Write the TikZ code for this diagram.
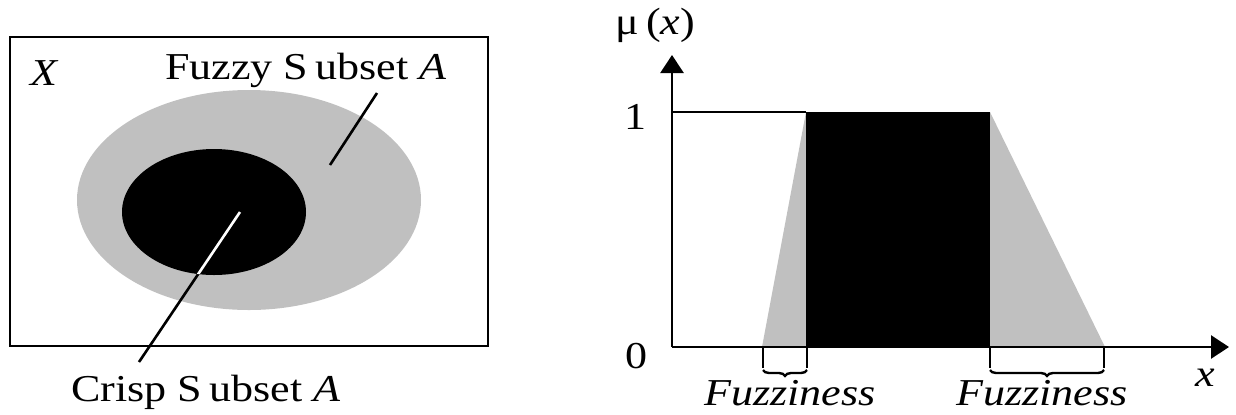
\documentclass[tikz,border=0pt]{standalone}
\usepackage{fontspec}
\setmainfont{Liberation Serif}
\usetikzlibrary{arrows.meta,decorations.pathreplacing}
\definecolor{fuzzgray}{RGB}{192,192,192}
\newcommand{\wide}[1]{\scalebox{1.16}[1]{#1}}

\begin{document}
\begin{tikzpicture}[x=0.5pt,y=-0.5pt,
	lbl/.style={inner sep=0pt,font=\fontsize{19}{21}\selectfont},
	axis/.style={line width=1.3pt,-{Triangle[length=9pt,width=11.5pt]}},
	fuzzbrace/.style={decorate,decoration={brace,mirror,amplitude=3pt},line width=1.2pt}]
	\useasboundingbox (0,0) rectangle (1236,414);
	% the universe X
	\draw[line width=1.2pt] (10,37) rectangle (488,346);
	\node[lbl] (X) at (45,73) {\wide{\textit{X}}};
	% fuzzy subset and crisp subset
	\fill[fuzzgray] (249,200) ellipse (172 and 110);
	\fill[black] (214,212) ellipse (92 and 63);
	\node[lbl] (fuzzy) at (306,70) {\wide{Fuzzy S\,ubset \textit{A}}};
	\node[lbl] (crisp) at (206,392) {\wide{Crisp S\,ubset \textit{A}}};
	\coordinate (fzend) at (377,93);
	\coordinate (fzin) at (330,165);
	\coordinate (crend) at (139,362);
	\coordinate (crin) at (240,212);
	\draw[line width=1.3pt] (fzend) -- (fzin);
	\draw[line width=1.3pt] (crend) -- (crin);
	\begin{scope}
		\clip (214,212) ellipse (92 and 63);
		\draw[line width=1.3pt, white] (crend) -- (crin);
	\end{scope}
	% membership function
	\coordinate (O) at (672,347);
	\coordinate (ytop) at (672,55);
	\coordinate (xend) at (1229,347);
	\fill[fuzzgray] (762,347) -- (806,112) -- (990,112) -- (1105,347) -- cycle;
	\fill[black] (806,112) rectangle (990,347);
	\draw[line width=1.3pt] (672,112) -- (806,112);
	\draw[axis] (O) -- (ytop);
	\draw[axis] (O) -- (xend);
	\node[lbl] (one) at (636,117) {\wide{1}};
	\node[lbl] (zero) at (637,356) {\wide{0}};
	\node[lbl] (mu) at (655,25) {\wide{μ\,(\textit{x})}};
	\node[lbl] (xlab) at (1205,378) {\wide{\textit{x}}};
	% fuzziness on both sides
	\foreach \t in {763,807,990,1104}
		\draw[line width=1.3pt] (\t,347) -- (\t,368);
	\draw[fuzzbrace] (763,370) -- (807,370);
	\draw[fuzzbrace] (990,370) -- (1104,370);
	\node[lbl] (fzl) at (790,393) {\wide{\textit{Fuzziness}}};
	\node[lbl] (fzr) at (1042,393) {\wide{\textit{Fuzziness}}};
\end{tikzpicture}
\end{document}
